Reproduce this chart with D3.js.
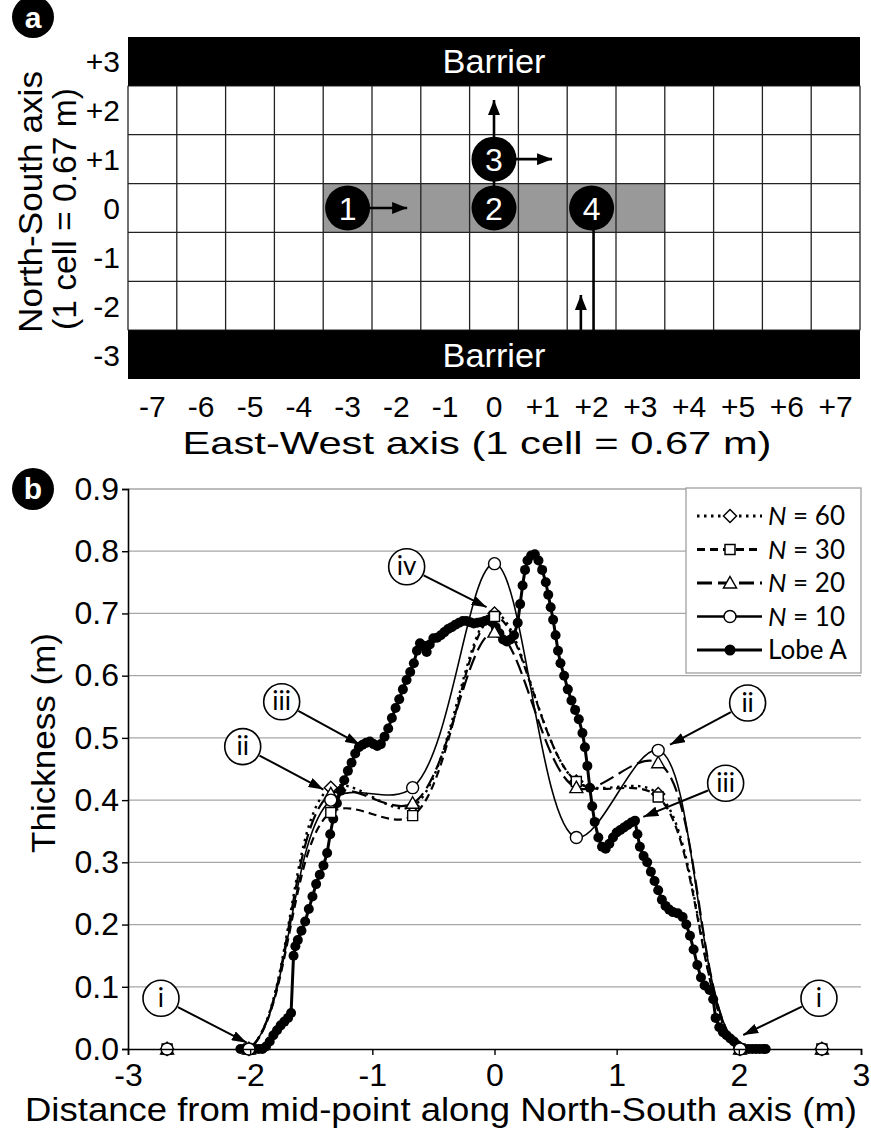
<!DOCTYPE html>
<html><head><meta charset="utf-8">
<script src="https://cdn.jsdelivr.net/npm/d3@7"></script>
<style>body{margin:0;background:#fff} svg{display:block}</style>
</head><body>
<svg id="chart" width="871" height="1129"></svg>
<script>
// ================= DATA: panel a =================
const ewCols   = [-7,-6,-5,-4,-3,-2,-1,0,1,2,3,4,5,6,7];
const ewLabels = ["-7","-6","-5","-4","-3","-2","-1","0","+1","+2","+3","+4","+5","+6","+7"];
const nsRows   = [3,2,1,0,-1,-2,-3];
const nsLabels = ["+3","+2","+1","0","-1","-2","-3"];
const barrierRows = [3,-3];
const shadedCols = [-3,-2,-1,0,1,2,3];
const shadedRow = 0;
const vents = [{id:"1",col:-3,row:0},{id:"2",col:0,row:0},{id:"3",col:0,row:1},{id:"4",col:2,row:0}];
// paths in grid units: [x1,y1,x2,y2]
const ventArrows = [[-3,0,-1.78,0],[0,1,1.19,1],[0,1,0,2.21],[1.78,-2.5,1.78,-1.78]];
const ventLines  = [[0,0,0,1],[2.04,0,2.04,-2.5]];

// ================= DATA: panel b =================
const dist     = [-2.68,-2.01,-1.34,-0.67,0,0.67,1.34,2.01,2.68];
const thickN60 = [0,0,0.42,0.39,0.70,0.43,0.41,0,0];
const thickN30 = [0,0,0.38,0.375,0.695,0.43,0.405,0,0];
const thickN20 = [0,0,0.41,0.395,0.67,0.42,0.46,0,0];
const thickN10 = [0,0,0.40,0.42,0.78,0.34,0.48,0,0];
const lobeX = [-2.08,-2.05,-2.02,-1.99,-1.96,-1.93,-1.90,-1.87,-1.84,-1.81,-1.78,-1.75,-1.72,-1.69,-1.665,
 -1.645,-1.63,-1.61,-1.58,-1.55,-1.52,-1.49,-1.46,-1.43,-1.40,-1.37,-1.345,-1.32,-1.29,-1.26,-1.23,-1.20,-1.17,-1.14,-1.11,
 -1.08,-1.05,-1.02,-0.99,-0.96,-0.93,-0.90,-0.87,-0.84,-0.81,-0.78,-0.75,-0.72,-0.69,-0.66,-0.635,-0.61,-0.58,-0.555,-0.53,
 -0.50,-0.47,-0.44,-0.41,-0.38,-0.35,-0.32,-0.29,-0.26,-0.23,-0.20,-0.17,-0.14,-0.11,-0.08,-0.05,-0.02,0.01,0.04,0.07,0.10,
 0.13,0.16,0.19,0.21,0.23,0.25,0.27,0.30,0.33,0.36,0.39,0.42,0.44,0.46,0.48,0.50,0.52,0.54,0.57,0.60,0.63,0.66,0.69,0.72,
 0.74,0.76,0.78,0.80,0.82,0.85,0.88,0.91,0.94,0.97,1.00,1.03,1.06,1.09,1.12,1.15,1.17,1.19,1.22,1.25,1.28,1.31,1.34,1.37,
 1.40,1.43,1.46,1.50,1.54,1.57,1.60,1.63,1.66,1.69,1.72,1.76,1.79,1.81,1.84,1.87,1.90,1.93,1.96,1.99,2.02,2.05,2.08,2.11,
 2.14,2.17,2.20,2.22];
const lobeY = [0,0,0,0,0,0,0,0.004,0.012,0.022,0.03,0.038,0.044,0.05,0.058,
 0.15,0.165,0.175,0.19,0.205,0.225,0.245,0.265,0.28,0.295,0.315,0.345,0.37,0.395,0.415,0.432,0.447,0.46,0.475,0.485,
 0.489,0.492,0.494,0.49,0.487,0.49,0.502,0.515,0.532,0.548,0.562,0.578,0.593,0.606,0.62,0.64,0.652,0.648,0.638,0.65,
 0.66,0.661,0.665,0.67,0.675,0.678,0.682,0.685,0.688,0.688,0.686,0.684,0.685,0.686,0.688,0.69,0.686,0.678,0.668,0.658,0.655,
 0.658,0.665,0.685,0.715,0.745,0.77,0.785,0.793,0.795,0.785,0.77,0.75,0.73,0.71,0.69,0.665,0.64,0.62,0.60,0.578,0.56,0.545,0.53,0.508,
 0.485,0.455,0.42,0.39,0.365,0.34,0.325,0.322,0.33,0.34,0.348,0.352,0.356,0.36,0.364,0.367,0.345,0.325,0.31,0.30,0.285,0.27,0.255,0.24,
 0.23,0.224,0.22,0.218,0.212,0.20,0.182,0.16,0.135,0.115,0.102,0.095,0.08,0.05,0.035,0.027,0.022,0.017,0.012,0.006,0.002,0,0,0,
 0,0,0,0];
const yTicks = [0,0.1,0.2,0.3,0.4,0.5,0.6,0.7,0.8,0.9];
const xTicks = [-3,-2,-1,0,1,2,3];
const seriesNames = ["N = 60","N = 30","N = 20","N = 10","Lobe A"];
// callouts: label, circle centre (data), arrow tip (data)
const callouts = [
  {t:"iv",  cx:-0.719, cy:0.775, tx:-0.065, ty:0.710},
  {t:"iii", cx:-1.742, cy:0.558, tx:-1.101, ty:0.489},
  {t:"ii",  cx:-2.061, cy:0.486, tx:-1.40,  ty:0.417},
  {t:"ii",  cx: 2.072, cy:0.556, tx: 1.437, ty:0.489},
  {t:"iii", cx: 1.892, cy:0.427, tx: 1.218, ty:0.373},
  {t:"i",   cx:-2.73,  cy:0.0815,tx:-2.028, ty:0.0101},
  {t:"i",   cx: 2.656, cy:0.0815,tx: 2.036, ty:0.0225}
];

// ================= DRAW =================
const svg = d3.select("#chart");
const SANS = "'Liberation Sans', Arial, sans-serif";
const CAL = "Lato, 'Open Sans', sans-serif";
const defs = svg.append("defs");
function head(id, w, h){
  defs.append("marker").attr("id",id).attr("markerUnits","userSpaceOnUse")
    .attr("markerWidth",w).attr("markerHeight",h).attr("refX",w).attr("refY",h/2)
    .attr("orient","auto").attr("viewBox",`0 0 ${w} ${h}`)
    .append("path").attr("d",`M0,0L${w},${h/2}L0,${h}Z`).attr("fill","#000");
}
head("ahA",15,12); head("ahB",15,10);

// ----- panel a -----
const xA = d3.scaleLinear().domain([-7.5,7.5]).range([128,860]);
const yA = d3.scaleLinear().domain([-3.5,3.5]).range([379,37]);
const gA = svg.append("g");
gA.selectAll("rect.sh").data(shadedCols).join("rect")
  .attr("x",d=>xA(d-0.5)).attr("y",yA(shadedRow+0.5))
  .attr("width",xA(0.5)-xA(-0.5)).attr("height",yA(-0.5)-yA(0.5)).attr("fill","#999");
const colEdges = d3.range(-7.5,7.51,1), rowEdges = d3.range(-2.5,2.51,1);
gA.selectAll("line.v").data(colEdges).join("line")
  .attr("x1",d=>xA(d)).attr("x2",d=>xA(d)).attr("y1",yA(2.5)).attr("y2",yA(-2.5))
  .attr("stroke","#222").attr("stroke-width",1.3);
gA.selectAll("line.h").data(rowEdges).join("line")
  .attr("x1",xA(-7.5)).attr("x2",xA(7.5)).attr("y1",d=>yA(d)).attr("y2",d=>yA(d))
  .attr("stroke","#222").attr("stroke-width",1.3);
barrierRows.forEach(r=>{
  gA.append("rect").attr("x",xA(-7.5)).attr("y",yA(r+0.5)).attr("width",xA(7.5)-xA(-7.5))
    .attr("height",yA(r-0.5)-yA(r+0.5)).attr("fill","#000");
  gA.append("text").attr("x",xA(0)).attr("y",yA(r)+12).attr("text-anchor","middle")
    .attr("fill","#fff").attr("font-family",SANS).attr("font-size",34).attr("textLength",103)
    .attr("lengthAdjust","spacingAndGlyphs").text("Barrier");
});
ventLines.forEach(l=>gA.append("line").attr("x1",xA(l[0])).attr("y1",yA(l[1])).attr("x2",xA(l[2])).attr("y2",yA(l[3]))
  .attr("stroke","#000").attr("stroke-width",2.6));
ventArrows.forEach(l=>gA.append("line").attr("x1",xA(l[0])).attr("y1",yA(l[1])).attr("x2",xA(l[2])).attr("y2",yA(l[3]))
  .attr("stroke","#000").attr("stroke-width",2.6).attr("marker-end","url(#ahA)"));
const vg = gA.selectAll("g.vent").data(vents).join("g").attr("transform",d=>`translate(${xA(d.col)},${yA(d.row)})`);
vg.append("circle").attr("r",22.5).attr("fill","#000");
vg.append("text").attr("y",11.5).attr("text-anchor","middle").attr("fill","#fff")
  .attr("font-family",SANS).attr("font-size",32).text(d=>d.id);
gA.selectAll("text.xl").data(ewCols).join("text").attr("x",d=>xA(d)).attr("y",417)
  .attr("text-anchor","middle").attr("font-family",SANS).attr("font-size",30).text((d,i)=>ewLabels[i]);
gA.selectAll("text.yl").data(nsRows).join("text").attr("x",120).attr("y",d=>yA(d)+11)
  .attr("text-anchor","end").attr("font-family",SANS).attr("font-size",30).text((d,i)=>nsLabels[i]);
gA.append("text").attr("x",477).attr("y",454).attr("text-anchor","middle").attr("font-family",SANS)
  .attr("font-size",32).attr("textLength",589).attr("lengthAdjust","spacingAndGlyphs").text("East-West axis (1 cell = 0.67 m)");
gA.append("text").attr("transform","translate(42,202) rotate(-90)").attr("text-anchor","middle").attr("font-family",SANS)
  .attr("font-size",34).attr("textLength",262).attr("lengthAdjust","spacingAndGlyphs").text("North-South axis");
gA.append("text").attr("transform","translate(76,209) rotate(-90)").attr("text-anchor","middle").attr("font-family",SANS)
  .attr("font-size",34).attr("textLength",242).attr("lengthAdjust","spacingAndGlyphs").text("(1 cell = 0.67 m)");

// panel letters
[["a",33,17,28],["b",33,489,499]].forEach(([t,x,y,by])=>{
  svg.append("circle").attr("cx",x).attr("cy",y).attr("r",21).attr("fill","#000");
  svg.append("text").attr("x",x).attr("y",by).attr("text-anchor","middle").attr("fill","#fff")
    .attr("font-family",SANS).attr("font-weight","bold").attr("font-size",30).text(t);
});

// ----- panel b -----
const xB = d3.scaleLinear().domain([-3,3]).range([128,861]);
const yB = d3.scaleLinear().domain([0,0.9]).range([1049,489]);
const gB = svg.append("g");
gB.selectAll("line.grid").data(yTicks.slice(1)).join("line")
  .attr("x1",xB(-3)).attr("x2",xB(3)).attr("y1",d=>yB(d)).attr("y2",d=>yB(d))
  .attr("stroke","#a6a6a6").attr("stroke-width",1.3);
defs.append("clipPath").attr("id","plotclip").append("rect").attr("x",128).attr("y",470).attr("width",740).attr("height",1049-470+0.5);

const ptsOf = ys => dist.map((x,i)=>[x,ys[i]]);
const lineGen = d3.line().x(d=>xB(d[0])).y(d=>yB(d[1])).curve(d3.curveCatmullRom.alpha(0.5));
const nSeries = [
  {ys:thickN60, dash:"2.5,4.5", w:2.4, sym:"diamond"},
  {ys:thickN30, dash:"8,5",     w:2.2, sym:"square"},
  {ys:thickN20, dash:"15,6",    w:2.2, sym:"triangle"},
  {ys:thickN10, dash:null,      w:1.6, sym:"circle"}
];
const symPath = {
  diamond:"M0,-6.5L6.5,0L0,6.5L-6.5,0Z",
  square:"M-5,-5H5V5H-5Z",
  triangle:"M0,-6.5L6.5,5L-6.5,5Z",
  circle:"M-6,0A6,6 0 1,0 6,0A6,6 0 1,0 -6,0Z"
};
const gLines = gB.append("g").attr("clip-path","url(#plotclip)");
nSeries.forEach(s=>{
  gLines.append("path").attr("d",lineGen(ptsOf(s.ys))).attr("fill","none").attr("stroke","#000")
    .attr("stroke-width",s.w).attr("stroke-dasharray",s.dash);
});
const lobePts = lobeX.map((x,i)=>[x,lobeY[i]]);
gLines.append("path").attr("d",d3.line().x(d=>xB(d[0])).y(d=>yB(d[1]))(lobePts))
  .attr("fill","none").attr("stroke","#000").attr("stroke-width",3);
gB.selectAll("circle.lobe").data(lobePts).join("circle")
  .attr("cx",d=>xB(d[0])).attr("cy",d=>yB(d[1])).attr("r",5).attr("fill","#000");
nSeries.forEach(s=>{
  gB.selectAll(null).data(ptsOf(s.ys)).join("path").attr("d",symPath[s.sym])
    .attr("transform",d=>`translate(${xB(d[0])},${yB(d[1])})`)
    .attr("fill","#fff").attr("stroke","#000").attr("stroke-width",1.4);
});

const yAx = gB.append("g").attr("transform","translate(128,0)")
  .call(d3.axisLeft(yB).tickValues(yTicks).tickFormat(d3.format(".1f")).tickSize(6).tickPadding(3));
const xAx = gB.append("g").attr("transform","translate(0,1049)")
  .call(d3.axisBottom(xB).tickValues(xTicks).tickFormat(d3.format("d")).tickSize(6).tickPadding(8));
[yAx,xAx].forEach(a=>{
  a.select(".domain").attr("stroke","#000").attr("stroke-width",1.6);
  a.selectAll(".tick line").attr("stroke","#000").attr("stroke-width",1.4);
  a.selectAll("text").attr("font-family",SANS).attr("font-size",32).attr("fill","#000");
});
xAx.selectAll("text").text(d=>d<0?"-"+Math.abs(d):String(d));
gB.append("text").attr("transform","translate(55,743) rotate(-90)").attr("text-anchor","middle")
  .attr("font-family",SANS).attr("font-size",34).attr("textLength",220).attr("lengthAdjust","spacingAndGlyphs").text("Thickness (m)");
gB.append("text").attr("x",441).attr("y",1121).attr("text-anchor","middle")
  .attr("font-family",SANS).attr("font-size",34).attr("textLength",832).attr("lengthAdjust","spacingAndGlyphs")
  .text("Distance from mid-point along North-South axis (m)");

callouts.forEach(c=>{
  const cx=xB(c.cx), cy=yB(c.cy), tx=xB(c.tx), ty=yB(c.ty);
  const L=Math.hypot(tx-cx,ty-cy), ux=(tx-cx)/L, uy=(ty-cy)/L;
  gB.append("line").attr("x1",cx+ux*19).attr("y1",cy+uy*19).attr("x2",tx).attr("y2",ty)
    .attr("stroke","#000").attr("stroke-width",2).attr("marker-end","url(#ahB)");
  gB.append("ellipse").attr("cx",cx).attr("cy",cy).attr("rx",18).attr("ry",18)
    .attr("fill","#fff").attr("stroke","#000").attr("stroke-width",1.6);
  gB.append("text").attr("x",cx).attr("y",cy+8.5).attr("text-anchor","middle")
    .attr("font-family",CAL).attr("font-size",26).text(c.t);
});

const lg = gB.append("g");
lg.append("rect").attr("x",686).attr("y",488).attr("width",175).attr("height",185)
  .attr("fill","#fff").attr("stroke","#a0a0a0").attr("stroke-width",1.3);
const legItems = seriesNames.map((n,i)=>({name:n, s: i<4 ? nSeries[i] : null}));
legItems.forEach((it,i)=>{
  const y = 516 + i*33.5;
  const row = lg.append("g").attr("transform",`translate(0,${y})`);
  if(it.s){
    row.append("line").attr("x1",697).attr("x2",762).attr("y1",0).attr("y2",0).attr("stroke","#000")
      .attr("stroke-width",it.s.w+ (it.s.dash?0.6:1)).attr("stroke-dasharray",it.s.dash);
    row.append("path").attr("d",symPath[it.s.sym]).attr("transform","translate(730,0)")
      .attr("fill","#fff").attr("stroke","#000").attr("stroke-width",1.5);
  } else {
    row.append("line").attr("x1",697).attr("x2",762).attr("y1",0).attr("y2",0).attr("stroke","#000").attr("stroke-width",3);
    row.append("circle").attr("cx",730).attr("r",5.5).attr("fill","#000");
  }
  const t = row.append("text").attr("x",768).attr("y",9).attr("font-family",CAL).attr("font-size",26);
  if(it.name.startsWith("N")){
    t.append("tspan").attr("font-style","italic").text("N");
    t.append("tspan").text(it.name.slice(1));
  } else t.text(it.name);
});
</script>
</body></html>
